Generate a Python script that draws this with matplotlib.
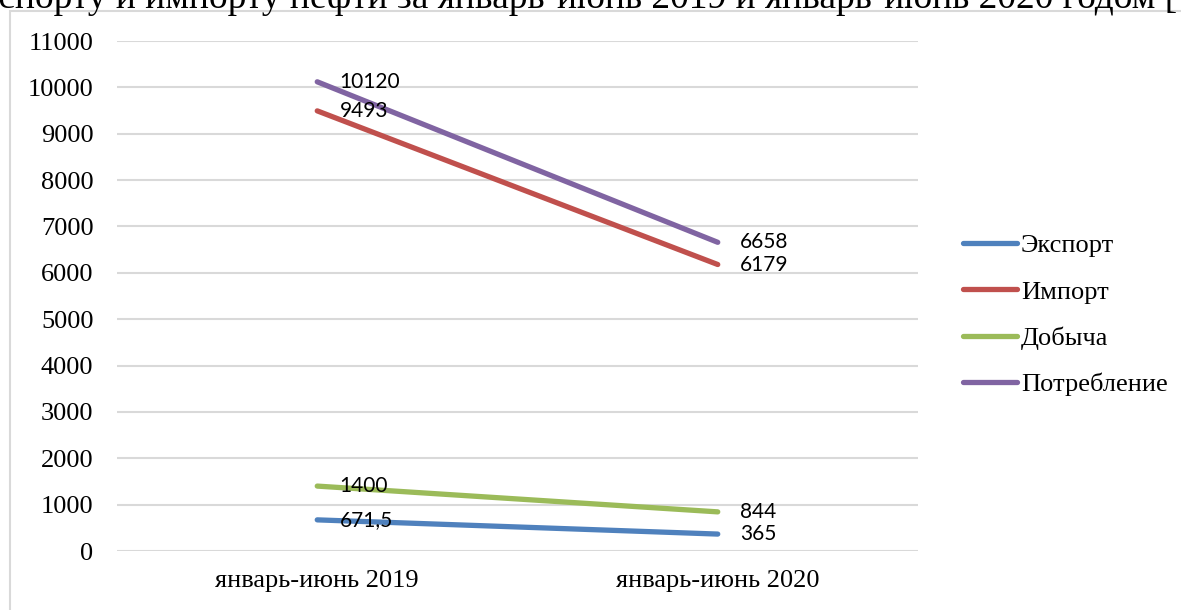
import matplotlib
matplotlib.use("Agg")
import matplotlib.pyplot as plt
from matplotlib.patches import Rectangle

# --- data ---
periods = ["январь-июнь 2019", "январь-июнь 2020"]
series_names = ["Экспорт", "Импорт", "Добыча", "Потребление"]
export_vals = [671.5, 365]
import_vals = [9493, 6179]
dobycha_vals = [1400, 844]
potreb_vals = [10120, 6658]
label_texts = {
    "Экспорт": ["671,5", "365"],
    "Импорт": ["9493", "6179"],
    "Добыча": ["1400", "844"],
    "Потребление": ["10120", "6658"],
}
colors = ["#4F81BD", "#C0504D", "#9BBB59", "#8064A2"]

W, H = 1181, 610
fig = plt.figure(figsize=(W / 100, H / 100), dpi=100)
fig.patch.set_facecolor("white")

# chart frame (cut by the image edges)
fig.patches.append(Rectangle((10 / W, -0.1), 1.2, (H - 11) / H + 0.1,
                             transform=fig.transFigure, fill=False,
                             edgecolor="#D9D9D9", linewidth=1.5))

# cut-off line of the document text above the chart
fig.text(1177 / W, 1 - 8 / H,
         "экспорту и импорту нефти за январь-июнь 2019 и январь-июнь 2020 годом [",
         ha="right", va="baseline", fontsize=27, family="Liberation Serif")

ax = fig.add_axes([117 / W, (H - 551) / H, (918 - 117) / W, (551 - 41) / H])
x = list(range(len(periods)))
all_vals = [export_vals, import_vals, dobycha_vals, potreb_vals]
for name, vals, c in zip(series_names, all_vals, colors):
    ax.plot(x, vals, color=c, linewidth=3.8, solid_capstyle="round", label=name, zorder=3)
    for xi, v, t in zip(x, vals, label_texts[name]):
        ax.annotate(t, (xi, v), xytext=(16, 0), textcoords="offset points",
                    ha="left", va="center", fontsize=15, family="Lato", zorder=4)

ax.set_xlim(-0.5, 1.5)
ax.set_ylim(0, 11000)
ax.set_yticks(range(0, 11001, 1000))
ax.set_xticks(x)
ax.set_xticklabels(periods)
ax.grid(axis="y", color="#D9D9D9", linewidth=1.5)
ax.set_axisbelow(True)
for s in ax.spines.values():
    s.set_visible(False)
ax.tick_params(length=0, labelsize=19)
ax.tick_params(axis="y", pad=17)
ax.tick_params(axis="x", pad=14)
for lab in ax.get_xticklabels() + ax.get_yticklabels():
    lab.set_family("Liberation Serif")

aw = 918 - 117
leg = ax.legend(loc="center left", bbox_to_anchor=((939 - 117) / aw, (551 - 315) / 510),
                frameon=False, prop={"family": "Liberation Serif", "size": 19},
                handlelength=2.05, handletextpad=0.15, labelspacing=0.86)
for h in leg.get_lines():
    h.set_linewidth(3.8)
    h.set_solid_capstyle("round")

fig.savefig("out.png", dpi=100)
